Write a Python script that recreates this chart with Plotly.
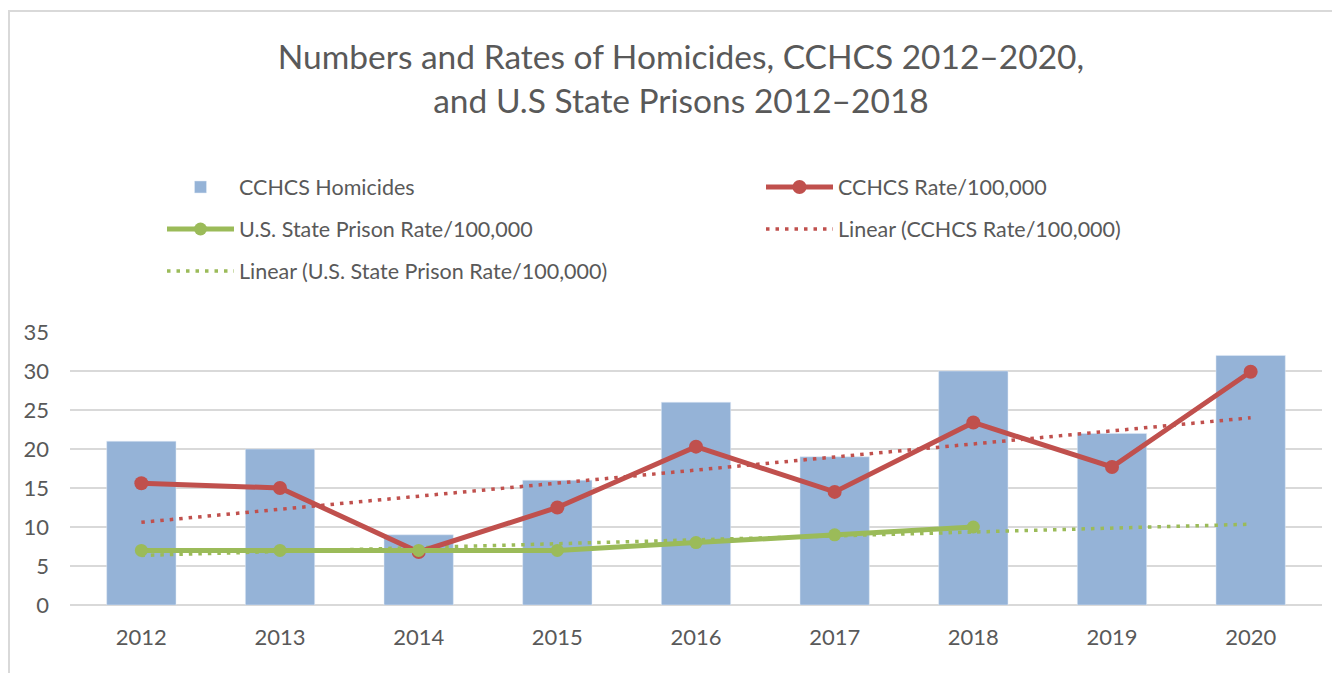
import numpy as np
import plotly.graph_objects as go

years = ["2012", "2013", "2014", "2015", "2016", "2017", "2018", "2019", "2020"]
homicides = [21, 20, 9, 16, 26, 19, 30, 22, 32]
cchcs_rate = [15.6, 15.0, 6.8, 12.5, 20.3, 14.5, 23.4, 17.7, 29.9]
us_years = ["2012", "2013", "2014", "2015", "2016", "2017", "2018"]
us_rate = [7, 7, 7, 7, 8, 9, 10]

BAR = "#95B3D7"
RED = "#C0504D"
GREEN = "#9BBB59"
GREY = "#595959"
FONT = "Lato, 'Open Sans', sans-serif"

# Linear trendlines (least squares, like Excel), green one forecast to 2020
xi = np.arange(len(years))
m1, b1 = np.polyfit(xi, cchcs_rate, 1)
trend_cchcs = list(m1 * xi + b1)
xu = np.arange(len(us_years))
m2, b2 = np.polyfit(xu, us_rate, 1)
trend_us = list(m2 * xi + b2)

DOT = "3.5px,6px"

fig = go.Figure()
fig.add_trace(go.Bar(x=years, y=homicides, name="CCHCS Homicides", marker_color=BAR,
                     width=0.5, legend="legend", showlegend=True))
fig.add_trace(go.Scatter(x=years, y=trend_cchcs, mode="lines", name="Linear (CCHCS Rate/100,000)",
                         line=dict(color=RED, width=3.5, dash=DOT), legend="legend4", showlegend=True))
fig.add_trace(go.Scatter(x=years, y=trend_us, mode="lines", name="Linear (U.S. State Prison Rate/100,000)",
                         line=dict(color=GREEN, width=3.5, dash=DOT), legend="legend5", showlegend=True))
fig.add_trace(go.Scatter(x=years, y=cchcs_rate, mode="lines+markers", name="CCHCS Rate/100,000",
                         line=dict(color=RED, width=5), marker=dict(size=14, color=RED),
                         legend="legend2", showlegend=True))
fig.add_trace(go.Scatter(x=us_years, y=us_rate, mode="lines+markers", name="U.S. State Prison Rate/100,000",
                         line=dict(color=GREEN, width=5), marker=dict(size=13, color=GREEN),
                         legend="legend3", showlegend=True))

# page has an 8px body margin; figure coords = page coords - 8
OFF = 8
W, H = 1340 - OFF, 673 - OFF
L = 70 - OFF
R = W - (1322 - OFF)
T = 332 - OFF
B = H - (605 - OFF)
pw, ph = W - L - R, H - T - B

def px_x(p):
    return (p - OFF - L) / pw

def px_y(p):
    return (H - B - (p - OFF)) / ph

leg_font = dict(family=FONT, size=21.5, color=GREY)
def leg(xp, yp):
    return dict(x=px_x(xp), y=px_y(yp), xanchor="left", yanchor="middle",
                font=leg_font, bgcolor="rgba(0,0,0,0)", itemwidth=67)

tickfont = dict(family=FONT, size=22, color=GREY)

fig.update_layout(
    width=W, height=H,
    margin=dict(l=L, r=R, t=T, b=B),
    paper_bgcolor="white", plot_bgcolor="white",
    font=dict(family=FONT, color=GREY),
    showlegend=True,
    title=dict(text="Numbers and Rates of Homicides, CCHCS 2012–2020,<br>and U.S State Prisons 2012–2018",
               x=(681 - OFF) / W, xanchor="center", y=1 - (69 - OFF) / H, yanchor="middle",
               font=dict(family=FONT, size=33.5, color=GREY)),
    legend=leg(162, 187),
    legend2=leg(761, 187),
    legend3=leg(162, 229),
    legend4=leg(761, 229),
    legend5=leg(162, 271),
    xaxis=dict(type="category", showgrid=False, showline=False, ticks="",
               tickfont=tickfont, ticklabelstandoff=17),
    yaxis=dict(range=[0, 35], dtick=5, showgrid=True, gridcolor="#D9D9D9", gridwidth=1.5,
               zeroline=True, zerolinecolor="#D9D9D9", zerolinewidth=1.5, showline=False, ticks="",
               tickfont=tickfont, ticklabelstandoff=20),
    shapes=[dict(type="rect", xref="paper", yref="paper",
                 x0=px_x(9), x1=px_x(1400), y0=px_y(720), y1=px_y(11),
                 line=dict(color="#D9D9D9", width=2), fillcolor="rgba(0,0,0,0)", layer="below")],
)

fig.write_html("out.html")
